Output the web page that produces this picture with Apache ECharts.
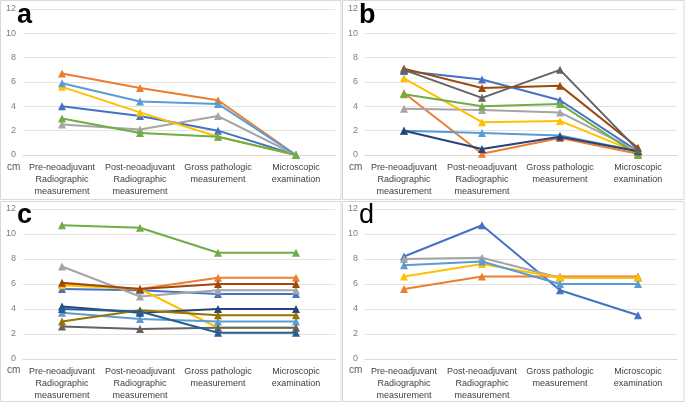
<!DOCTYPE html>
<html><head><meta charset="utf-8">
<script src="https://cdn.jsdelivr.net/npm/echarts@6/dist/echarts.min.js"></script>
<style>html,body{margin:0;padding:0;background:#fff}#c{width:685px;height:402px}</style>
</head><body><div id="c"></div>
<script>
const categories = ['Pre-neoadjuvant\nRadiographic\nmeasurement','Post-neoadjuvant\nRadiographic\nmeasurement','Gross pathologic\nmeasurement','Microscopic\nexamination'];
const yTicks = [0,2,4,6,8,10,12];
const palette = ['#4472C4','#ED7D31','#A5A5A5','#FFC000','#5B9BD5','#70AD47','#264478','#9E480E','#636363','#997300','#255E91'];

const panelA = [
  [4.0, 3.2, 2.0, 0],
  [6.7, 5.5, 4.5, 0],
  [2.5, 2.1, 3.2, 0],
  [5.6, 3.5, 1.5, 0],
  [5.9, 4.4, 4.2, 0],
  [3.0, 1.8, 1.5, 0]
];
const panelB = [
  [6.9, 6.2, 4.5, 0.3],
  [5.1, 0.1, 1.4, 0.1],
  [3.8, 3.7, 3.5, 0.3],
  [6.3, 2.7, 2.8, 0.2],
  [2.0, 1.8, 1.6, 0.3],
  [5.0, 4.0, 4.2, 0.0],
  [2.0, 0.5, 1.5, 0.3],
  [7.1, 5.5, 5.7, 0.6],
  [7.0, 4.7, 7.0, 0.4]
];
const panelC = [
  [5.6, 5.5, 5.2, 5.2],
  [6.0, 5.6, 6.5, 6.5],
  [7.4, 5.0, 5.5, 5.5],
  [5.9, 5.6, 2.5, 2.5],
  [3.7, 3.2, 3.0, 3.0],
  [10.7, 10.5, 8.5, 8.5],
  [4.2, 3.7, 4.0, 4.0],
  [6.1, 5.6, 6.0, 6.0],
  [2.6, 2.4, 2.5, 2.5],
  [3.0, 3.9, 3.5, 3.5],
  [4.0, 3.8, 2.1, 2.1]
];
const panelD = [
  [8.2, 10.7, 5.5, 3.5],
  [5.6, 6.6, 6.6, 6.6],
  [8.0, 8.1, 6.5, 6.5],
  [6.6, 7.6, 6.5, 6.5],
  [7.5, 7.8, 6.0, 6.0]
];
const panelLetters = ['a','b','c','d'];

const panels = [panelA, panelB, panelC, panelD];
const grids = [
  {left:23, top:9, width:312, height:146},
  {left:365, top:9, width:312, height:146},
  {left:23, top:209, width:312, height:150},
  {left:365, top:209, width:312, height:150}
];
const FONT = 'Liberation Sans, Arial, sans-serif';
const xAxes = [], yAxes = [], series = [];
grids.forEach((g,i)=>{
  xAxes.push({type:'category', gridIndex:i, data:categories, boundaryGap:true,
    axisLine:{lineStyle:{color:'#D9D9D9', width:1}}, axisTick:{show:false},
    axisLabel:{interval:0, color:'#404040', fontSize:9, fontWeight:'normal', fontFamily:FONT, lineHeight:12, margin:7}});
  yAxes.push({type:'value', gridIndex:i, min:yTicks[0], max:yTicks[yTicks.length-1], interval:2,
    axisLine:{show:false}, axisTick:{show:false},
    axisLabel:{color:'#7F7F7F', fontSize:9, fontFamily:FONT, margin:7},
    splitLine:{lineStyle:{color:'#E3E3E3', width:1}}});
  panels[i].forEach((vals,k)=>{
    series.push({type:'line', xAxisIndex:i, yAxisIndex:i, data:vals,
      symbol:'triangle', symbolSize:8, showSymbol:true,
      lineStyle:{width:2, color:palette[k]}, itemStyle:{color:palette[k]},
      animation:false, z:2+k});
  });
});
const graphics = [];
const frames = [[0.5,0.5,340.5,199],[342.5,0.5,341.5,199],[0.5,201.5,340.5,200],[342.5,201.5,341.5,200]];
frames.forEach(f=>graphics.push({type:'rect', shape:{x:f[0],y:f[1],width:f[2],height:f[3]}, style:{fill:'none', stroke:'#D9D9D9', lineWidth:1}, silent:true}));
const letterPos = [[17,2],[359,2],[17,202],[359,202]];
panelLetters.forEach((t,i)=>{
  graphics.push({type:'text', left:letterPos[i][0], top:letterPos[i][1], style:{text:t, fontSize:27, fontWeight:(i===3?'normal':'bold'), fill:'#000', fontFamily:FONT}, z:10});
});
const cmPos = [[7,162],[349,162],[7,365],[349,365]];
cmPos.forEach(p=>graphics.push({type:'text', left:p[0], top:p[1], style:{text:'cm', fontSize:10, fill:'#595959', fontFamily:FONT}}));

const chart = echarts.init(document.getElementById('c'), null, {renderer:'canvas'});
chart.setOption({animation:false, grid:grids, xAxis:xAxes, yAxis:yAxes, series:series, graphic:graphics});
</script></body></html>
